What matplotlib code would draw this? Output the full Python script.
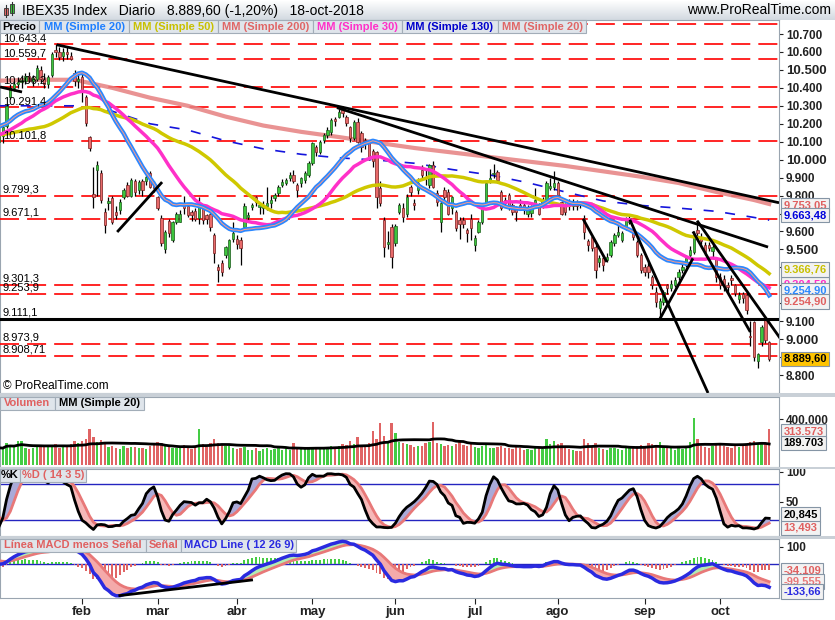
#!/usr/bin/env python
"""IBEX35 daily chart with MAs, volume, stochastic and MACD panels."""
import matplotlib
matplotlib.use("Agg")
import matplotlib.pyplot as plt
from matplotlib import font_manager
from matplotlib.colors import LinearSegmentedColormap
from matplotlib.patches import Rectangle
from matplotlib.transforms import blended_transform_factory
import numpy as np
import pandas as pd

W, H = 835, 620

# daily OHLC, 2 Jan 2018 .. 18 Oct 2018 (205 sessions)
OPEN = [
    10100, 10130, 10185, 10350, 10400, 10420, 10430, 10440, 10465, 10440,
    10450, 10500, 10450, 10420, 10470, 10610, 10600, 10580, 10600, 10580,
    10480, 10440, 10460, 10350, 10125, 9810, 9940, 9925, 9708, 9760,
    9785, 9710, 9720, 9790, 9860, 9800, 9880, 9830, 9880, 9880,
    9925, 9870, 9790, 9675, 9500, 9660, 9555, 9655, 9655, 9747,
    9740, 9710, 9715, 9675, 9730, 9690, 9700, 9580, 9400, 9425,
    9470, 9400, 9560, 9560, 9555, 9625, 9680, 9735, 9790, 9735,
    9730, 9740, 9760, 9785, 9815, 9860, 9870, 9895, 9915, 9860,
    9870, 9885, 9915, 9980, 10070, 10045, 10110, 10140, 10155, 10225,
    10240, 10285, 10240, 10180, 10120, 10210, 10150, 10110, 10090, 10050,
    10040, 9840, 9663, 9530, 9625, 9535, 9710, 9730, 9700, 9845,
    9760, 9830, 9945, 9905, 9860, 9970, 9815, 9655, 9830, 9820,
    9730, 9708, 9665, 9665, 9608, 9670, 9525, 9597, 9650, 9765,
    9885, 9920, 9930, 9820, 9775, 9805, 9745, 9730, 9750, 9750,
    9700, 9705, 9760, 9745, 9740, 9775, 9840, 9845, 9870, 9765,
    9745, 9760, 9740, 9760, 9755, 9675, 9545, 9570, 9513, 9430,
    9450, 9440, 9470, 9535, 9580, 9555, 9625, 9650, 9590, 9540,
    9470, 9400, 9410, 9346, 9263, 9175, 9205, 9300, 9285, 9300,
    9345, 9385, 9415, 9470, 9485, 9608, 9570, 9525, 9525, 9490,
    9452, 9346, 9335, 9300, 9340, 9300, 9225, 9250, 9245, 9020,
    9095, 8880, 8985, 9110, 8985,
]
HIGH = [
    10160, 10200, 10310, 10420, 10440, 10460, 10470, 10480, 10490, 10470,
    10530, 10520, 10480, 10470, 10600, 10643, 10630, 10620, 10630, 10600,
    10500, 10480, 10480, 10360, 10130, 9960, 9990, 9940, 9730, 9790,
    9800, 9740, 9780, 9840, 9875, 9900, 9890, 9885, 9890, 9915,
    9935, 9880, 9800, 9690, 9610, 9670, 9660, 9710, 9720, 9800,
    9750, 9720, 9730, 9790, 9740, 9700, 9720, 9590, 9420, 9440,
    9520, 9560, 9650, 9580, 9570, 9760, 9710, 9760, 9800, 9760,
    9770, 9850, 9800, 9815, 9860, 9890, 9900, 9930, 9940, 9870,
    9905, 9935, 9990, 10100, 10080, 10110, 10150, 10180, 10230, 10240,
    10280, 10291, 10250, 10190, 10220, 10230, 10160, 10120, 10110, 10060,
    10050, 9880, 9680, 9600, 9640, 9640, 9760, 9760, 9810, 9860,
    9780, 9900, 9970, 9940, 9975, 9990, 9830, 9770, 9850, 9835,
    9800, 9720, 9680, 9680, 9620, 9700, 9580, 9665, 9760, 9880,
    9950, 9975, 9945, 9830, 9790, 9815, 9760, 9740, 9780, 9770,
    9745, 9750, 9840, 9760, 9790, 9880, 9900, 9935, 9880, 9770,
    9760, 9780, 9780, 9775, 9770, 9690, 9560, 9580, 9530, 9470,
    9470, 9480, 9550, 9590, 9640, 9600, 9680, 9700, 9610, 9550,
    9480, 9420, 9430, 9360, 9290, 9230, 9275, 9310, 9330, 9345,
    9390, 9420, 9470, 9520, 9600, 9650, 9590, 9540, 9540, 9530,
    9460, 9370, 9360, 9320, 9360, 9310, 9260, 9265, 9255, 9100,
    9100, 8925, 9080, 9125, 8990,
]
LOW = [
    10070, 10090, 10175, 10340, 10385, 10400, 10400, 10420, 10430, 10410,
    10440, 10430, 10400, 10400, 10460, 10570, 10555, 10550, 10560, 10555,
    10410, 10400, 10320, 10190, 10050, 9730, 9800, 9760, 9590, 9720,
    9640, 9670, 9700, 9780, 9790, 9790, 9800, 9810, 9800, 9860,
    9840, 9820, 9720, 9520, 9480, 9570, 9540, 9640, 9650, 9700,
    9680, 9660, 9660, 9640, 9640, 9640, 9600, 9425, 9318, 9350,
    9450, 9390, 9540, 9500, 9415, 9610, 9660, 9720, 9740, 9700,
    9700, 9720, 9730, 9770, 9800, 9845, 9860, 9880, 9870, 9790,
    9850, 9870, 9905, 9970, 10020, 10030, 10090, 10120, 10140, 10190,
    10230, 10240, 10190, 10100, 10110, 10090, 10040, 10060, 10000, 9960,
    9730, 9740, 9460, 9500, 9395, 9520, 9700, 9650, 9680, 9800,
    9720, 9810, 9890, 9860, 9840, 9840, 9740, 9597, 9770, 9690,
    9700, 9600, 9560, 9620, 9540, 9550, 9490, 9590, 9640, 9760,
    9870, 9900, 9870, 9720, 9740, 9720, 9690, 9660, 9720, 9700,
    9680, 9680, 9750, 9690, 9730, 9765, 9830, 9830, 9790, 9690,
    9690, 9720, 9720, 9720, 9730, 9560, 9490, 9490, 9340, 9400,
    9380, 9430, 9460, 9520, 9570, 9540, 9610, 9640, 9550, 9460,
    9370, 9350, 9340, 9280, 9180, 9111, 9190, 9250, 9270, 9290,
    9330, 9370, 9400, 9460, 9475, 9570, 9530, 9470, 9490, 9460,
    9320, 9280, 9270, 9260, 9300, 9240, 9200, 9200, 9140, 8960,
    8880, 8840, 8960, 8980, 8880,
]
CLOSE = [
    10130, 10180, 10300, 10400, 10420, 10430, 10445, 10465, 10440, 10455,
    10510, 10450, 10420, 10460, 10590, 10600, 10570, 10600, 10590, 10560,
    10440, 10450, 10390, 10205, 10065, 9790, 9970, 9775, 9636, 9770,
    9650, 9690, 9765, 9830, 9800, 9887, 9820, 9875, 9830, 9905,
    9850, 9840, 9730, 9535, 9597, 9590, 9650, 9700, 9700, 9730,
    9690, 9690, 9670, 9745, 9665, 9670, 9625, 9480, 9385, 9375,
    9513, 9555, 9590, 9530, 9510, 9742, 9690, 9745, 9765, 9750,
    9745, 9760, 9775, 9805, 9850, 9875, 9885, 9915, 9880, 9830,
    9895, 9925, 9980, 10093, 10040, 10100, 10140, 10165, 10220, 10215,
    10265, 10260, 10205, 10120, 10210, 10100, 10070, 10095, 10015, 9990,
    9790, 9760, 9513, 9540, 9460, 9630, 9747, 9680, 9790, 9820,
    9750, 9870, 9915, 9900, 9970, 9850, 9765, 9760, 9790, 9700,
    9790, 9620, 9640, 9640, 9590, 9620, 9565, 9653, 9745, 9870,
    9900, 9925, 9885, 9730, 9760, 9735, 9708, 9708, 9735, 9720,
    9730, 9735, 9775, 9700, 9775, 9870, 9855, 9870, 9805, 9700,
    9710, 9740, 9760, 9740, 9745, 9597, 9525, 9510, 9385, 9450,
    9415, 9460, 9540, 9580, 9597, 9590, 9665, 9675, 9570, 9470,
    9385, 9375, 9375, 9300, 9208, 9210, 9260, 9285, 9310, 9330,
    9375, 9400, 9450, 9495, 9580, 9590, 9545, 9485, 9510, 9515,
    9346, 9302, 9300, 9290, 9330, 9255, 9245, 9230, 9160, 9010,
    8900, 8915, 9070, 8998, 8889.6,
]
# volume in thousands of shares
VOLUME = [
    150, 145, 195, 175, 160, 210, 210, 150, 140, 150,
    165, 160, 155, 170, 175, 180, 150, 165, 160, 180,
    205, 195, 210, 230, 310, 245, 200, 215, 200, 160,
    170, 150, 140, 165, 150, 160, 155, 145, 150, 140,
    165, 180, 200, 190, 170, 160, 150, 145, 150, 175,
    150, 140, 170, 310, 180, 160, 195, 225, 190, 175,
    165, 170, 150, 140, 145, 160, 135, 130, 150, 125,
    140, 150, 135, 140, 155, 130, 145, 135, 195, 160,
    140, 145, 150, 160, 150, 155, 145, 160, 170, 150,
    165, 180, 175, 212, 180, 246, 170, 175, 190, 300,
    230, 362, 250, 200, 362, 275, 200, 190, 180, 175,
    160, 170, 165, 190, 200, 377, 195, 180, 170, 175,
    165, 185, 200, 175, 170, 180, 160, 150, 165, 175,
    150, 145, 155, 170, 150, 145, 140, 160, 145, 130,
    140, 135, 150, 155, 140, 226, 180, 205, 180, 195,
    150, 140, 130, 125, 120, 223, 190, 170, 195, 150,
    140, 130, 145, 150, 140, 130, 150, 145, 160, 170,
    175, 150, 190, 180, 175, 200, 160, 150, 145, 135,
    150, 140, 155, 200, 412, 230, 170, 160, 150, 165,
    190, 175, 165, 160, 150, 170, 160, 165, 175, 200,
    210, 180, 190, 185, 313.573,
]
# closes of the sessions before the chart (Oct-Dec 2017), only used to warm up indicators
WARMUP_CLOSE = [
    10150, 10180, 10150, 10200, 10170, 10230, 10200, 10250, 10200, 10350,
    10300, 10250, 10240, 10100, 10130, 10050, 10000, 10010, 9950, 9890,
    9990, 9970, 10000, 10080, 10050, 10070, 10060, 9990, 10090, 10100,
    10080, 10000, 10120, 10100, 10050, 10140, 10240, 10290, 10350, 10320,
    10280, 10250, 10290, 10260, 10230, 10190, 10160, 10130, 10100, 10050,
]

MONTH_IDX = [22, 42, 63, 83, 105, 126, 148, 171, 191]
MONTH_LABELS = ["feb", "mar", "abr", "may", "jun", "jul", "ago", "sep", "oct"]

# long averages
LONG_MA_IDX = [0, 10, 20, 30, 40, 50, 60, 70, 80, 90, 100,
               110, 120, 130, 140, 150, 160, 170, 180, 190, 200, 204]
SMA200 = [10440, 10445, 10445, 10400, 10345, 10300, 10240, 10190, 10155, 10126, 10095,
          10065, 10040, 10015, 9990, 9965, 9935, 9905, 9870, 9820, 9775, 9753]
SMA130 = [10300, 10300, 10300, 10270, 10200, 10165, 10105, 10060, 10030, 10010, 9998,
          9980, 9945, 9915, 9872, 9820, 9770, 9745, 9730, 9712, 9678, 9663]

LEVELS = [10755, 10643.4, 10559.7, 10406.2, 10291.4, 10101.8, 9799.3, 9671.1,
          9301.3, 9253.9, 8973.9, 8908.71]
LEVEL_LABELS = ["", "10.643,4", "10.559,7", "10.406,2", "10.291,4", "10.101,8", "9.799,3",
                "9.671,1", "9.301,3", "9.253,9", "8.973,9", "8.908,71"]
SUPPORT = 9111.1

# price-axis labels hidden behind the value boxes in the original
HIDDEN_TICKS = [9700, 9300, 9200, 8900]

# trendlines: (session, price) -> (session, price)
TRENDS = [
    (15.3, 10640, 206.6, 9760),
    (89.5, 10290, 203.7, 9513),
    (31.3, 9597, 43.2, 9875),
    (0.3, 10405, 6.1, 10377),
    (154.7, 9670, 161.0, 9430),
    (167.1, 9665, 187.8, 8700),
    (175.0, 9111, 183.8, 9450),
    (184.9, 9660, 206.9, 9005),
    (183.8, 9600, 199.0, 9040),
]
MACD_TREND = (32.0, -181, 66.9, -91)

GREEN = "#3cc43c"
RED = "#e86a6a"
SALMON = "#e87878"
TAG_FACE = "#dfe5eb"
TAG_EDGE = "#a2adb8"
SPINE = "#9aa5b0"

names = {f.name for f in font_manager.fontManager.ttflist}
NARROW = "Liberation Sans Narrow" if "Liberation Sans Narrow" in names else "Liberation Sans"
plt.rcParams["font.family"] = ["Liberation Sans", "DejaVu Sans"]


def px_rect(l, t, r, b):
    return [l / W, 1 - b / H, (r - l) / W, (b - t) / H]


def fmt_dot(v):
    return f"{v:,.0f}".replace(",", ".")


def tag(fig, x0, x1, y0, y1, text, color):
    fig.add_artist(Rectangle((x0 / W, 1 - y1 / H), (x1 - x0) / W, (y1 - y0) / H,
                             transform=fig.transFigure, fc=TAG_FACE, ec=TAG_EDGE,
                             lw=0.8, zorder=10))
    fig.text((x0 + x1) / 2 / W, 1 - (y0 + y1) / 2 / H, text, color=color,
             ha="center", va="center", fontsize=8, weight="bold",
             family=NARROW, zorder=11)


def value_box(ax, value, text, color, dy=0, face="#f2f2f2", z=20):
    ax.annotate(text, xy=(1, value), xycoords=("axes fraction", "data"),
                xytext=(3.2, -dy * 0.72), textcoords="offset points",
                ha="left", va="center", fontsize=8, weight="bold", color=color,
                bbox=dict(boxstyle="square,pad=0.2", fc=face, ec="#8595a5", lw=0.8),
                annotation_clip=False, zorder=z)


def style_axis(ax):
    for s in ax.spines.values():
        s.set_color(SPINE)
    ax.yaxis.tick_right()
    ax.tick_params(axis="y", direction="out", length=3, colors="#222222", pad=2)
    ax.set_xlim(0.265, 206.6)


def main():
    n = len(CLOSE)
    idx = np.arange(n)
    o, h, l, c = map(np.array, (OPEN, HIGH, LOW, CLOSE))
    nw = len(WARMUP_CLOSE)
    closes = pd.Series(WARMUP_CLOSE + CLOSE, dtype=float)
    highs = pd.Series(WARMUP_CLOSE + HIGH, dtype=float)
    lows = pd.Series(WARMUP_CLOSE + LOW, dtype=float)

    sma = {p: closes.rolling(p).mean().values[nw:] for p in (20, 30, 50)}
    ema12 = closes.ewm(span=12, adjust=False).mean()
    ema26 = closes.ewm(span=26, adjust=False).mean()
    macd = ema12 - ema26
    signal = macd.ewm(span=9, adjust=False).mean()
    macd, signal = macd.values[nw:], signal.values[nw:]
    hist = macd - signal

    hh = highs.rolling(14).max()
    ll = lows.rolling(14).min()
    raw = (closes - ll) / (hh - ll) * 100
    k = raw.rolling(3).mean()
    d = k.rolling(5).mean()
    k, d = k.values[nw:], d.values[nw:]

    vol = np.array(VOLUME)
    vol_ma = pd.Series(vol).rolling(20, min_periods=1).mean().values

    fig = plt.figure(figsize=(W / 100, H / 100), dpi=100, facecolor="white")

    # header strip
    axh = fig.add_axes([0, 1 - 20 / H, 1, 20 / H])
    cmap = LinearSegmentedColormap.from_list("hdr", ["#ffffff", "#d3dae1"])
    axh.imshow(np.linspace(0, 1, 20)[:, None], cmap=cmap, aspect="auto",
               extent=(0, W, 20, 0))
    axh.set_xlim(0, W)
    axh.set_ylim(20, 0)
    axh.axis("off")
    axh.plot([6, 6], [5, 17], color="#333", lw=0.8)
    axh.add_patch(Rectangle((4, 8), 4, 7, fc=RED, ec="#333", lw=0.6))
    axh.plot([12, 12], [2, 15], color="#333", lw=0.8)
    axh.add_patch(Rectangle((10, 4), 4, 9, fc=GREEN, ec="#333", lw=0.6))
    axh.text(22, 10.5, "IBEX35 Index   Diario   8.889,60 (-1,20%)   18-oct-2018",
             fontsize=10, va="center", ha="left", family=NARROW)
    axh.text(831, 10.5, "www.ProRealTime.com", fontsize=10, va="center", ha="right",
             family=NARROW)

    # panel separators
    for t, b in ((393, 397), (467, 469), (536, 539)):
        fig.add_artist(Rectangle((0, 1 - b / H), 1, (b - t) / H, transform=fig.transFigure,
                                 fc="#c9d0d7", ec="none", zorder=0.5))

    # ---------------- price panel ----------------
    ax = fig.add_axes(px_rect(0, 20, 779, 393))
    style_axis(ax)
    ax.set_ylim(8700, 10778)
    ax.set_xticks([])
    yt = np.arange(8800, 10701, 100)
    ax.set_yticks(yt)
    ax.set_yticklabels(["" if v in HIDDEN_TICKS else fmt_dot(v) for v in yt])
    for v, lbl in zip(yt, ax.get_yticklabels()):
        lbl.set_fontweight("bold")
        lbl.set_fontsize(9.5 if v % 500 == 0 else 8.5)

    bt = blended_transform_factory(ax.transAxes, ax.transData)
    lw_lv = 1.2
    for lv, lab in zip(LEVELS, LEVEL_LABELS):
        ax.axhline(lv, color="#ff0000", lw=lw_lv, ls=(0, (13.7 / lw_lv, 5.8 / lw_lv)), zorder=3)
        if lab:
            ax.annotate(lab, xy=(0, lv), xycoords=bt, xytext=(2, 0.8),
                        textcoords="offset points", fontsize=8, va="bottom", ha="left",
                        zorder=12)
    ax.axhline(SUPPORT, color="black", lw=2.2, zorder=8)
    ax.annotate("9.111,1", xy=(0, SUPPORT), xycoords=bt, xytext=(2, 1.5),
                textcoords="offset points", fontsize=8, va="bottom", ha="left", zorder=12)

    ax.plot(LONG_MA_IDX, SMA200, color="#e68080", lw=3, alpha=0.85, zorder=4)
    ax.plot(LONG_MA_IDX, SMA130, color="#1414dc", lw=1.2, ls=(0, (6, 7)), zorder=4)

    up = c >= o
    ax.vlines(idx, l, h, color="black", lw=0.9, zorder=5)
    ax.bar(idx, np.maximum(np.abs(c - o), 5), bottom=np.minimum(o, c), width=0.62,
           color=np.where(up, GREEN, RED), edgecolor=np.where(up, "#1d5e1d", "#7a2020"),
           linewidth=0.5, zorder=6)

    ax.plot(idx, sma[50], color="#cfc800", lw=2.5, zorder=7)
    ax.plot(idx, sma[30], color="#ff30c8", lw=2.5, zorder=7)
    ax.plot(idx, sma[20], color="#2b88ff", lw=3.2, zorder=7)
    ax.plot(idx, sma[20], color="#ff9c88", lw=0.7, zorder=7)

    for x0, y0, x1, y1 in TRENDS:
        ax.plot([x0, x1], [y0, y1], color="black", lw=2, zorder=8, solid_capstyle="butt")

    ax.text(3 / 779, (393 - 386) / 373, "\u00a9 ProRealTime.com", transform=ax.transAxes,
            fontsize=8.5, va="center", ha="left")

    value_box(ax, 9753.05, "9.753,05", "#e06060", dy=1.5)
    value_box(ax, 9663.48, "9.663,48", "#0000dd", dy=-5)
    value_box(ax, 9304.58, "9.304,58", "#ff30c8", dy=0)
    value_box(ax, 9366.76, "9.366,76", "#c8c000", dy=-4)
    value_box(ax, 9254.90, "9.254,90", "#2b88ff", dy=-3)
    value_box(ax, 9254.90, "9.254,90", "#e06060", dy=8)
    value_box(ax, 8889.60, "8.889,60", "black", face="#ffc400")

    # ---------------- volume panel ----------------
    axv = fig.add_axes(px_rect(0, 397, 779, 467))
    style_axis(axv)
    axv.set_ylim(-17, 592)
    axv.set_xticks([])
    vcol = np.where(up, "#44cc44", "#e06464")
    axv.bar(idx, vol, width=0.62, color=vcol, zorder=3)
    axv.plot(idx, vol_ma, color="black", lw=2, zorder=4)
    axv.set_yticks([400])
    axv.set_yticklabels(["400.000"], fontweight="bold", fontsize=8.5)
    value_box(axv, 313.573, "313.573", "#e06060", dy=2.5)
    value_box(axv, 189.703, "189.703", "black")

    # ---------------- stochastic panel ----------------
    axs = fig.add_axes(px_rect(0, 469, 779, 536))
    style_axis(axs)
    axs.set_ylim(-6.7, 105)
    axs.set_xticks([])
    axs.axhline(80, color="#2424c0", lw=1, zorder=2)
    axs.axhline(20, color="#2424c0", lw=1, zorder=2)
    axs.fill_between(idx, k, d, where=k >= d, interpolate=True, color="#aaaad8", zorder=3)
    axs.fill_between(idx, k, d, where=k < d, interpolate=True, color="#f6b8b8", zorder=3)
    axs.plot(idx, d, color=SALMON, lw=2, zorder=4)
    axs.plot(idx, k, color="black", lw=2, zorder=5)
    axs.set_yticks([100, 50])
    axs.set_yticklabels(["100", "50"], fontweight="bold", fontsize=8.5)
    value_box(axs, 20.845, "20,845", "black", dy=-5)
    value_box(axs, 13.493, "13,493", "#e06060", dy=4)

    # ---------------- MACD panel ----------------
    axm = fig.add_axes(px_rect(0, 539, 779, 598))
    style_axis(axm)
    axm.set_ylim(-195, 146)
    axm.axhline(0, color="#2424c0", lw=1, zorder=2)
    axm.bar(idx, hist, width=0.5, color=np.where(hist >= 0, "#44cc44", "#e06464"), zorder=2)
    axm.fill_between(idx, macd, signal, where=macd >= signal, interpolate=True,
                     color="#b2ecb2", zorder=3)
    axm.fill_between(idx, macd, signal, where=macd < signal, interpolate=True,
                     color="#f4aaaa", zorder=3)
    axm.plot(idx, signal, color=SALMON, lw=2, zorder=4)
    axm.plot(idx, macd, color="#2a2ae0", lw=2.5, zorder=5)
    x0, y0, x1, y1 = MACD_TREND
    axm.plot([x0, x1], [y0, y1], color="black", lw=2, zorder=6)
    axm.set_yticks([100])
    axm.set_yticklabels(["100"], fontweight="bold", fontsize=8.5)
    axm.set_xticks(MONTH_IDX)
    axm.set_xticklabels(MONTH_LABELS, fontweight="bold", fontsize=9.5)
    axm.tick_params(axis="x", direction="out", length=4, colors="#222222", pad=2)
    value_box(axm, -34.109, "-34,109", "#e06060")
    value_box(axm, -99.555, "-99,555", SALMON)
    value_box(axm, -133.66, "-133,66", "#2a2ae0", dy=4)

    # legend tags
    tag(fig, 0, 39, 20, 33, "Precio", "black")
    tag(fig, 39, 129, 20, 33, "MM (Simple 20)", "#1e7fff")
    tag(fig, 129, 218, 20, 33, "MM (Simple 50)", "#c8c000")
    tag(fig, 218, 313, 20, 33, "MM (Simple 200)", "#e06666")
    tag(fig, 313, 402, 20, 33, "MM (Simple 30)", "#ff30c8")
    tag(fig, 402, 498, 20, 33, "MM (Simple 130)", "#0000cc")
    tag(fig, 498, 586, 20, 33, "MM (Simple 20)", "#e06666")
    tag(fig, 0, 55, 397, 410, "Volumen", "#e06060")
    tag(fig, 55, 144, 397, 410, "MM (Simple 20)", "black")
    tag(fig, 0, 20, 469, 482, "%K", "black")
    tag(fig, 20, 86, 469, 482, "%D ( 14 3 5)", "#e06060")
    tag(fig, 0, 146, 539, 552, "L\u00ednea MACD menos Se\u00f1al", "#e06060")
    tag(fig, 146, 181, 539, 552, "Se\u00f1al", "#e06060")
    tag(fig, 181, 296, 539, 552, "MACD Line ( 12 26 9)", "#2a2ae0")

    fig.savefig("out.png", dpi=100)
    plt.close(fig)


if __name__ == "__main__":
    main()
